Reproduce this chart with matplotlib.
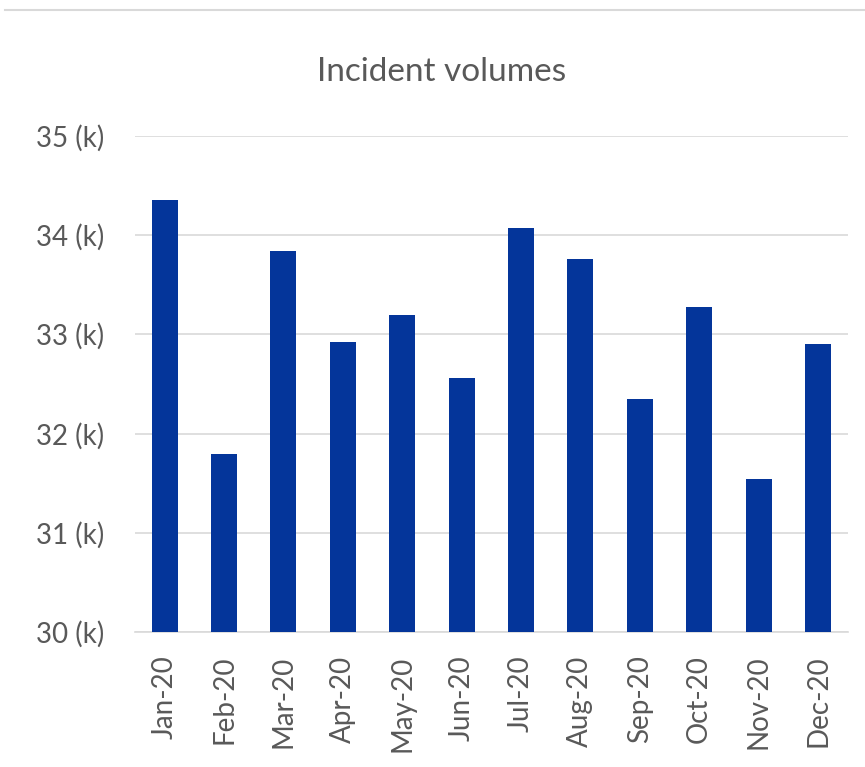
import numpy as np
import matplotlib.pyplot as plt
from matplotlib.lines import Line2D
from matplotlib.ticker import FuncFormatter

plt.rcParams['font.family'] = ['Lato', 'DejaVu Sans']

months = ['Jan-20', 'Feb-20', 'Mar-20', 'Apr-20', 'May-20', 'Jun-20',
          'Jul-20', 'Aug-20', 'Sep-20', 'Oct-20', 'Nov-20', 'Dec-20']
# incident counts in thousands
incidents = [34.35, 31.79, 33.84, 32.92, 33.19, 32.56,
             34.07, 33.76, 32.35, 33.27, 31.54, 32.90]

text_grey = '#595959'
grid_grey = '#d9d9d9'

fig = plt.figure(figsize=(8.65, 7.67), dpi=100)
ax = fig.add_axes([0.156, 0.176, 0.824, 0.647])

x_pos = np.arange(len(months))
ax.bar(x_pos, incidents, width=0.44, color='#04359a', zorder=3)

ax.set_xlim(-0.5, len(months) - 0.5)
ax.set_ylim(30, 35)
ax.set_yticks(np.arange(30, 36, 1))
ax.yaxis.set_major_formatter(FuncFormatter(lambda v, p: '%d (k)' % v))
ax.set_xticks(x_pos)
ax.set_xticklabels(months, rotation=90)

ax.yaxis.grid(True, color=grid_grey, linewidth=1.2, zorder=0)
for side in ['top', 'right', 'left']:
    ax.spines[side].set_visible(False)
ax.spines['bottom'].set_color(grid_grey)
ax.spines['bottom'].set_linewidth(1.2)
ax.tick_params(axis='both', length=0, colors=text_grey, labelsize=20)
ax.tick_params(axis='y', pad=22)
ax.tick_params(axis='x', pad=17)

fig.text(0.51, 0.906, 'Incident volumes', ha='center', va='center',
         fontsize=24, color=text_grey)

# thin rule across the top of the card
fig.add_artist(Line2D([0.006, 1.0], [0.987, 0.987], color=grid_grey,
                      linewidth=1.5, transform=fig.transFigure))

fig.savefig('out.png', dpi=100, facecolor='white')
